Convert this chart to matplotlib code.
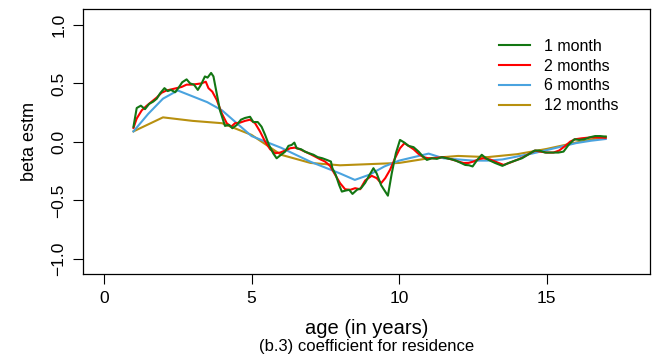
import numpy as np
import matplotlib
matplotlib.use('Agg')
import matplotlib.pyplot as plt

plt.rcParams['font.family'] = ['Liberation Sans', 'DejaVu Sans']

# 1 month (green), vertices
age_1m = [1.00, 1.11, 1.25, 1.39, 1.53, 1.67, 1.79, 1.90, 2.05, 2.16, 2.27, 2.41,
          2.52, 2.65, 2.80, 2.92, 3.05, 3.18, 3.29, 3.42, 3.51, 3.63, 3.71, 3.82,
          3.93, 4.10, 4.24, 4.35, 4.50, 4.64, 4.78, 4.95, 5.06, 5.21, 5.34, 5.46,
          5.59, 5.74, 5.85, 6.00, 6.14, 6.25, 6.36, 6.45, 6.53, 6.68, 6.81, 6.95,
          7.10, 7.24, 7.40, 7.55, 7.69, 7.74, 7.85, 7.97, 8.06, 8.19, 8.31, 8.42,
          8.57, 8.71, 8.85, 8.98, 9.13, 9.24, 9.39, 9.53, 9.62, 9.75, 9.89, 10.03,
          10.18, 10.32, 10.49, 10.66, 10.79, 10.94, 11.11, 11.28, 11.45, 11.62,
          11.76, 11.92, 12.07, 12.24, 12.37, 12.49, 12.63, 12.80, 12.94, 13.08,
          13.25, 13.50, 13.71, 13.93, 14.16, 14.36, 14.59, 14.75, 14.95, 15.18,
          15.40, 15.57, 15.74, 15.94, 16.10, 16.28, 16.47, 16.64, 16.81, 17.00]
beta_1m = [0.13, 0.29, 0.31, 0.28, 0.325, 0.345, 0.37, 0.415, 0.46, 0.435, 0.445, 0.425,
           0.46, 0.51, 0.535, 0.50, 0.49, 0.445, 0.49, 0.56, 0.55, 0.59, 0.56, 0.415,
           0.27, 0.137, 0.145, 0.117, 0.145, 0.19, 0.205, 0.215, 0.17, 0.17, 0.13, 0.06,
           -0.026, -0.10, -0.14, -0.11, -0.083, -0.034, -0.026, -0.006, -0.054, -0.063, -0.083, -0.097,
           -0.11, -0.13, -0.14, -0.154, -0.168, -0.225, -0.28, -0.37, -0.425, -0.416, -0.41, -0.445,
           -0.41, -0.396, -0.35, -0.29, -0.225, -0.27, -0.37, -0.425, -0.46, -0.27, -0.097, 0.017,
           -0.006, -0.034, -0.045, -0.083, -0.12, -0.154, -0.14, -0.145, -0.13, -0.14,
           -0.148, -0.16, -0.177, -0.197, -0.20, -0.21, -0.16, -0.11, -0.14, -0.16,
           -0.18, -0.205, -0.18, -0.16, -0.14, -0.11, -0.074, -0.074, -0.091, -0.091,
           -0.091, -0.083, -0.026, 0.023, 0.017, 0.023, 0.04, 0.05, 0.05, 0.045]

# 2 months (red)
age_2m = [1.00, 1.11, 1.28, 1.45, 1.62, 1.79, 1.95, 2.12, 2.29, 2.46, 2.63, 2.80,
          2.97, 3.14, 3.29, 3.45, 3.54, 3.67, 3.82, 3.99, 4.16, 4.31, 4.44, 4.61,
          4.78, 4.95, 5.12, 5.29, 5.46, 5.63, 5.80, 5.97, 6.14, 6.31, 6.47, 6.64,
          6.81, 6.98, 7.15, 7.32, 7.49, 7.66, 7.83, 8.00, 8.17, 8.34, 8.51, 8.68,
          8.85, 9.07, 9.24, 9.39, 9.53, 9.69, 9.86, 10.03, 10.18, 10.32, 10.49,
          10.66, 10.82, 10.99, 11.16, 11.33, 11.50, 11.67, 11.84, 12.01, 12.18,
          12.35, 12.52, 12.69, 12.86, 13.08, 13.37, 13.54, 13.76, 13.99, 14.21,
          14.44, 14.61, 14.78, 15.00, 15.23, 15.42, 15.63, 15.80, 15.97, 16.19,
          16.42, 16.64, 16.81, 17.00]
beta_2m = [0.12, 0.20, 0.27, 0.31, 0.345, 0.38, 0.42, 0.44, 0.45, 0.46, 0.47, 0.49,
           0.49, 0.495, 0.50, 0.515, 0.46, 0.43, 0.36, 0.245, 0.16, 0.13, 0.16, 0.165,
           0.18, 0.19, 0.16, 0.088, 0.003, -0.063, -0.097, -0.091, -0.074, -0.054, -0.049, -0.063,
           -0.083, -0.103, -0.125, -0.148, -0.168, -0.205, -0.28, -0.353, -0.405, -0.41, -0.396, -0.405,
           -0.33, -0.29, -0.31, -0.353, -0.31, -0.24, -0.14, -0.054, -0.011, -0.034, -0.063,
           -0.103, -0.13, -0.14, -0.14, -0.134, -0.13, -0.142, -0.154, -0.168, -0.18,
           -0.18, -0.168, -0.148, -0.14, -0.15, -0.18, -0.197, -0.177, -0.154, -0.13,
           -0.097, -0.074, -0.083, -0.091, -0.091, -0.074, -0.034, 0.003, 0.023, 0.031,
           0.037, 0.04, 0.037, 0.035]

# 6 months (blue)
age_6m = [1.0, 1.5, 2.0, 2.5, 3.0, 3.5, 4.0, 4.5, 5.0, 5.5, 6.0, 6.5, 7.0, 7.5, 8.0,
          8.5, 9.0, 9.5, 10.0, 10.5, 11.0, 11.5, 12.0, 12.5, 13.0, 13.5, 14.0, 14.5,
          15.0, 15.5, 16.0, 16.5, 17.0]
beta_6m = [0.09, 0.24, 0.37, 0.44, 0.39, 0.34, 0.27, 0.16, 0.05, 0.0, -0.05, -0.11,
           -0.17, -0.22, -0.27, -0.325, -0.28, -0.21, -0.16, -0.13, -0.10, -0.14, -0.15,
           -0.16, -0.16, -0.15, -0.125, -0.10, -0.07, -0.04, -0.01, 0.01, 0.025]

# 12 months (gold)
age_12m = list(range(1, 18))
beta_12m = [0.09, 0.21, 0.18, 0.16, 0.06, -0.11, -0.18, -0.20, -0.19, -0.18, -0.14,
            -0.12, -0.13, -0.105, -0.06, -0.005, 0.045]

series = [('1 month', age_1m, beta_1m, '#137613'),
          ('2 months', age_2m, beta_2m, '#ff0000'),
          ('6 months', age_6m, beta_6m, '#4aa3df'),
          ('12 months', age_12m, beta_12m, '#b8900f')]

fig = plt.figure(figsize=(6.56, 3.64), dpi=100)
ax = fig.add_axes([83 / 656, 1 - 274 / 364, (650 - 83) / 656, (274 - 9) / 364])

# draw coarse first so the monthly line sits on top
for label, x, y, col in reversed(series):
    ax.plot(x, y, color=col, lw=1.5, label=label)

ax.set_xlim(-0.71, 18.5)
ax.set_ylim(-1.13, 1.137)
ax.set_xticks([0, 5, 10, 15])
ax.set_yticks([-1.0, -0.5, 0.0, 0.5, 1.0])
ax.set_yticklabels(['\u22121.0', '\u22120.5', '0.0', '0.5', '1.0'],
                   rotation=90, va='center')
ax.tick_params(direction='out', length=7, width=0.8, labelsize=12.5)
ax.tick_params(axis='x', pad=5)
ax.tick_params(axis='y', pad=5)
for sp in ax.spines.values():
    sp.set_linewidth(0.9)

handles, labels = ax.get_legend_handles_labels()
ax.legend(handles[::-1], labels[::-1], loc='upper right',
          bbox_to_anchor=(0.97, 0.942), frameon=False, fontsize=11.5,
          handlelength=1.9, handletextpad=0.9, labelspacing=0.3)

fig.text(30 / 656, 1 - 142 / 364, 'beta estm', rotation=90,
         ha='center', va='center', fontsize=13)
fig.text(367 / 656, 1 - 329 / 364, 'age (in years)',
         ha='center', va='center', fontsize=14.5)
fig.text(367 / 656, 1 - 347 / 364, '(b.3) coefficient for residence',
         ha='center', va='center', fontsize=12)

fig.savefig('out.png', dpi=100)
